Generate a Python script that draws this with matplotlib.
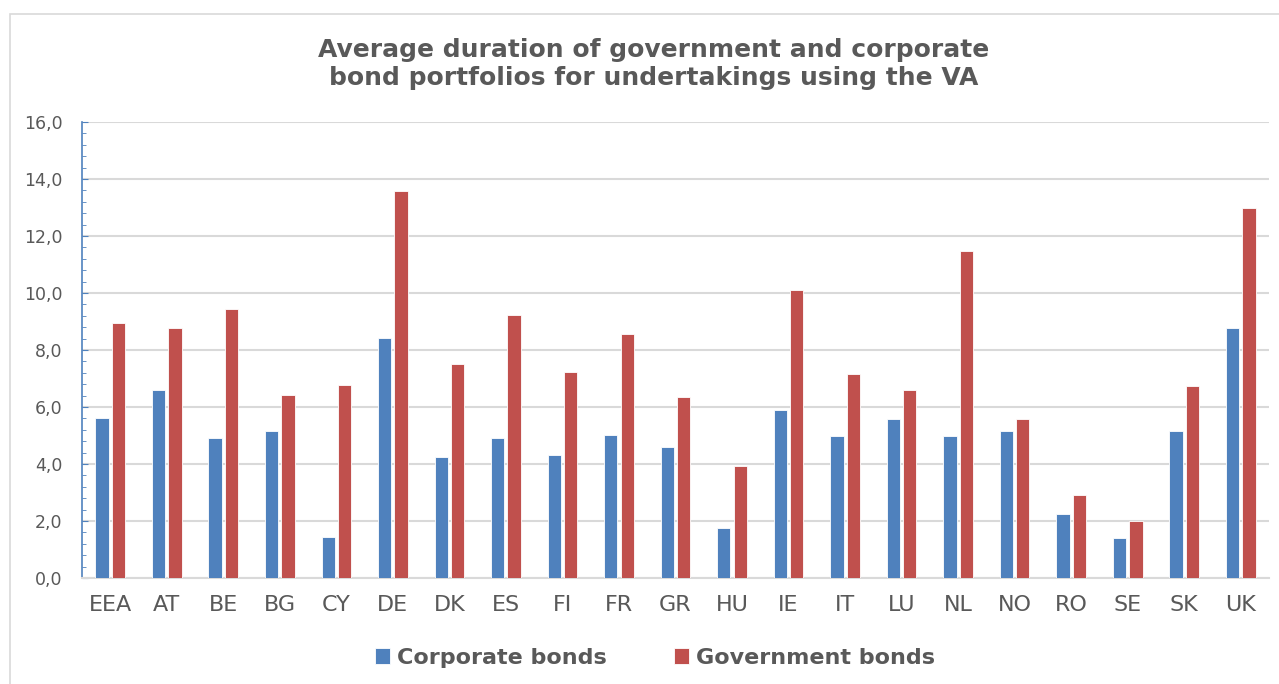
import numpy as np
import matplotlib.pyplot as plt
from matplotlib.patches import Rectangle
from matplotlib.ticker import MultipleLocator, FuncFormatter

plt.rcParams["font.family"] = ["DejaVu Sans"]

# data
countries = ["EEA", "AT", "BE", "BG", "CY", "DE", "DK", "ES", "FI", "FR", "GR",
             "HU", "IE", "IT", "LU", "NL", "NO", "RO", "SE", "SK", "UK"]
corporate = [5.63, 6.61, 4.91, 5.15, 1.45, 8.42, 4.25, 4.91, 4.30, 5.03, 4.61,
             1.75, 5.88, 4.97, 5.58, 4.97, 5.15, 2.25, 1.39, 5.15, 8.78]
government = [8.96, 8.78, 9.45, 6.42, 6.78, 13.57, 7.52, 9.22, 7.22, 8.55, 6.36,
              3.94, 10.12, 7.15, 6.61, 11.46, 5.58, 2.91, 2.00, 6.73, 12.97]

blue = "#4f81bd"
red = "#c0504d"
txt = "#595959"

fig = plt.figure(figsize=(12.79, 6.84), dpi=100)
fig.patches.append(Rectangle((10 / 1279, -0.1), 1.2, 1.1 - 14 / 684,
                             transform=fig.transFigure, fill=False,
                             edgecolor="#d9d9d9", linewidth=1.2))

ax = fig.add_axes([82 / 1279, 1 - 578 / 684, (1269 - 82) / 1279, (578 - 122) / 684])

x = np.arange(len(countries))
w = 0.235
ax.bar(x - 0.145, corporate, w, color=blue, edgecolor="white", linewidth=0.6,
       label="Corporate bonds", zorder=3)
ax.bar(x + 0.145, government, w, color=red, edgecolor="white", linewidth=0.6,
       label="Government bonds", zorder=3)

ax.set_xlim(-0.5, len(countries) - 0.5)
ax.set_ylim(0, 16)
ax.yaxis.set_major_locator(MultipleLocator(2))
ax.yaxis.set_minor_locator(MultipleLocator(0.4))
ax.yaxis.set_major_formatter(FuncFormatter(lambda v, p: f"{v:.1f}".replace(".", ",")))
ax.grid(axis="y", color="#d9d9d9", linewidth=1.5, zorder=0)

ax.set_xticks(x)
ax.set_xticklabels(countries, fontsize=16, color=txt)
ax.tick_params(axis="x", length=0, pad=12)
ax.tick_params(axis="y", which="major", labelsize=12.5, labelcolor=txt,
               direction="in", length=4, color=blue, pad=14)
ax.tick_params(axis="y", which="minor", direction="in", length=3, color=blue)

for s in ["top", "right"]:
    ax.spines[s].set_visible(False)
ax.spines["left"].set_color(blue)
ax.spines["left"].set_linewidth(1.2)
ax.spines["bottom"].set_color("#d9d9d9")
ax.spines["bottom"].set_linewidth(1.5)

fig.text(0.511, 1 - 64 / 684, "Average duration of government and corporate\n"
         "bond portfolios for undertakings using the VA",
         ha="center", va="center", fontsize=18, fontweight="bold", color=txt,
         linespacing=1.2)

fig.legend(loc="center", bbox_to_anchor=(0.512, 1 - 658 / 684), ncol=2,
           frameon=False, prop={"size": 16, "weight": "bold"}, labelcolor=txt,
           handlelength=0.7, handleheight=0.7, handletextpad=0.3, columnspacing=3.0)

fig.savefig("out.png", dpi=100)
